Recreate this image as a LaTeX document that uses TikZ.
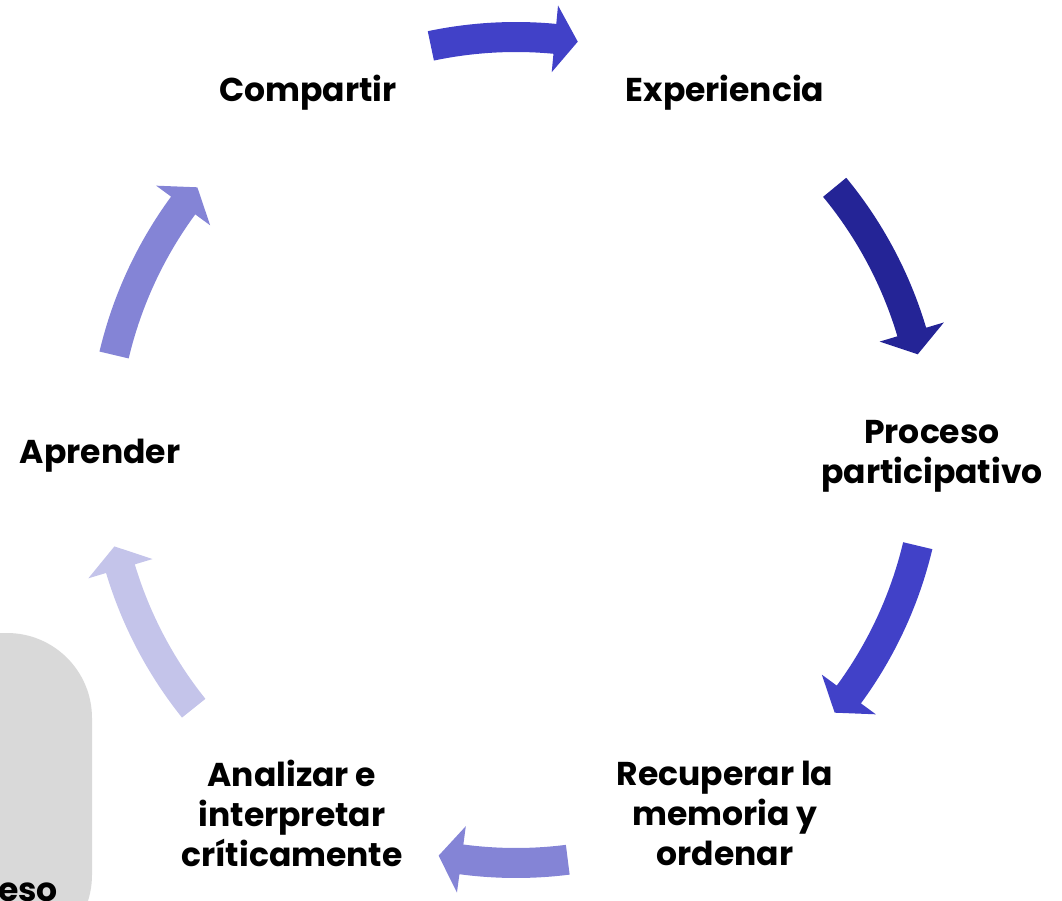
\documentclass[tikz,border=0pt]{standalone}
\usepackage{fontspec}
\setmainfont{Poppins}
\definecolor{arrowA}{RGB}{65,65,200}
\definecolor{arrowB}{RGB}{36,36,150}
\definecolor{arrowC}{RGB}{132,132,214}
\definecolor{arrowD}{RGB}{196,196,234}
\definecolor{panelgray}{RGB}{217,217,217}
\newcommand\cyclearrow[3]{%
  \pgfmathsetmacro\hb{#2+3.2}%
  \fill[#3] (#1:428pt) arc[start angle=#1, end angle=\hb, radius=428pt]
    -- (\hb:446.5pt) -- (#2:413pt) -- (\hb:379.5pt) -- (\hb:398pt)
    arc[start angle=\hb, end angle=#1, radius=398pt] -- cycle;%
}
\begin{document}
\begin{tikzpicture}[x=1pt,y=1pt,
  lbl/.style={font=\fontsize{33}{40}\selectfont\bfseries, align=center, inner sep=0pt, text=black}]
\useasboundingbox (0,0) rectangle (1062,900);
\clip (0,0) rectangle (1062,900);
% gray panel at lower left
\fill[panelgray, rounded corners=85pt] (-200,-60) rectangle (92,267);
\node[lbl, anchor=base east] (cut) at (58,-1) {eso};
% arrows around centre (516,450)
\begin{scope}[shift={(516,450)}]
  \cyclearrow{101.9}{81.4}{arrowA}
  \cyclearrow{39.5}{13.4}{arrowB}
  \cyclearrow{-13.4}{-39.5}{arrowA}
  \cyclearrow{-82.8}{-100.8}{arrowC}
  \cyclearrow{218.7}{193.5}{arrowD}
  \cyclearrow{166.7}{140.5}{arrowC}
\end{scope}
% labels
\node[lbl] (compartir) at (308,807) {Compartir};
\node[lbl] (experiencia) at (725,807) {Experiencia};
\node[lbl] (proceso) at (932,444) {Proceso\\participativo};
\node[lbl] (recuperar) at (725,87) {Recuperar la\\memoria y\\ordenar};
\node[lbl] (analizar) at (292,87) {Analizar e\\interpretar\\críticamente};
\node[lbl] (aprender) at (100,444) {Aprender};
\end{tikzpicture}
\end{document}
